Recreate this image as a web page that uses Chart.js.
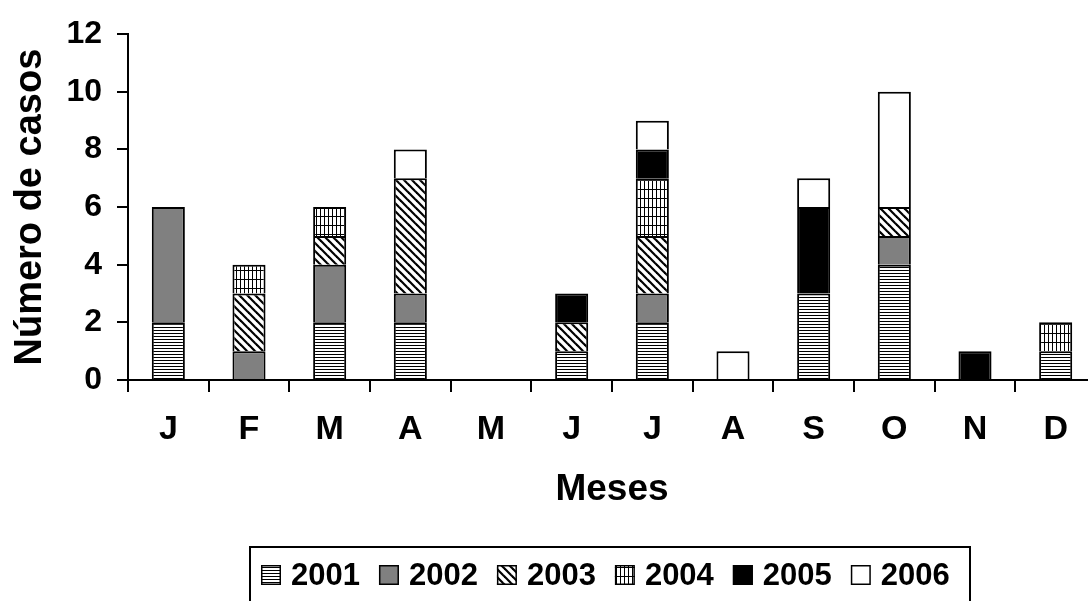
<!DOCTYPE html>
<html>
<head>
<meta charset="utf-8">
<script src="https://cdn.jsdelivr.net/npm/chart.js@4/dist/chart.umd.min.js"></script>
<style>
  html, body { margin: 0; padding: 0; background: #fff; overflow: hidden; }
  canvas { display: block; }
</style>
</head>
<body>
<canvas id="chart" width="1110" height="620"></canvas>
<script>
// Monthly case counts, one array per year (stacked bottom to top)
const months = ['J', 'F', 'M', 'A', 'M', 'J', 'J', 'A', 'S', 'O', 'N', 'D'];
const years = ['2001', '2002', '2003', '2004', '2005', '2006'];
const cases2001 = [2, 0, 2, 2, 0, 1, 2, 0, 3, 4, 0, 1];
const cases2002 = [4, 1, 2, 1, 0, 0, 1, 0, 0, 1, 0, 0];
const cases2003 = [0, 2, 1, 4, 0, 1, 2, 0, 0, 1, 0, 0];
const cases2004 = [0, 1, 1, 0, 0, 0, 2, 0, 0, 0, 0, 1];
const cases2005 = [0, 0, 0, 0, 0, 1, 1, 0, 3, 0, 1, 0];
const cases2006 = [0, 0, 0, 1, 0, 0, 1, 1, 1, 4, 0, 0];
const yMin = 0, yMax = 12, yStep = 2;

const FONT = '"Liberation Sans", Arial, Helvetica, sans-serif';

// Small tiles used as monochrome fill patterns
function makePattern(w, h, paint) {
  const c = document.createElement('canvas');
  c.width = w; c.height = h;
  const g = c.getContext('2d');
  g.fillStyle = '#fff';
  g.fillRect(0, 0, w, h);
  g.fillStyle = '#000';
  g.strokeStyle = '#000';
  paint(g, w, h);
  return g.createPattern(c, 'repeat');
}
const ctx = document.getElementById('chart').getContext('2d');

const hStripes = makePattern(4, 3, (g, w) => { g.fillRect(0, 0, w, 1); });
const diagStripes = makePattern(8, 8, (g) => {
  g.lineWidth = 2.2;
  for (const a of [-8, 0, 8]) {
    g.beginPath();
    g.moveTo(a - 2, -2);
    g.lineTo(a + 10, 10);
    g.stroke();
  }
});
const smallGrid = makePattern(4, 9, (g, w, h) => {
  g.fillRect(0, 0, 1, h);
  g.fillRect(0, 0, w, 1);
});

const fills = [hStripes, '#808080', diagStripes, smallGrid, '#000000', '#ffffff'];
const series = [cases2001, cases2002, cases2003, cases2004, cases2005, cases2006];

const datasets = years.map((year, i) => ({
  label: year,
  data: series[i],
  backgroundColor: fills[i],
  borderColor: '#000',
  borderWidth: { top: 2, left: 2, right: 2, bottom: 0 },
  borderSkipped: false,
  barPercentage: 0.41,
  categoryPercentage: 1
}));

// Framed legend row below the axis title
const framedLegend = {
  id: 'framedLegend',
  afterDraw(chart) {
    const c = chart.ctx;
    c.save();
    c.lineWidth = 2;
    c.strokeStyle = '#000';
    c.strokeRect(250, 547, 720, 100);
    c.font = 'bold 31px ' + FONT;
    c.textBaseline = 'middle';
    c.textAlign = 'left';
    const cy = 575;
    let x = 261;
    chart.data.datasets.forEach(ds => {
      c.fillStyle = ds.backgroundColor;
      c.fillRect(x, cy - 10, 20, 20);
      c.lineWidth = 1.5;
      c.strokeStyle = '#000';
      c.strokeRect(x + 0.75, cy - 9.25, 18.5, 18.5);
      c.fillStyle = '#000';
      c.fillText(ds.label, x + 30, cy + 1);
      x += 30 + c.measureText(ds.label).width + 19;
    });
    c.restore();
  }
};

new Chart(ctx, {
  type: 'bar',
  data: { labels: months, datasets },
  plugins: [framedLegend],
  options: {
    responsive: false,
    animation: false,
    layout: { padding: { top: 24, right: 14, bottom: 0, left: 0 } },
    plugins: {
      legend: { display: false },
      tooltip: { enabled: false }
    },
    scales: {
      x: {
        stacked: true,
        grid: {
          offset: true,
          drawOnChartArea: false,
          drawTicks: true,
          tickLength: 12,
          color: '#000',
          lineWidth: 2
        },
        border: { display: true, color: '#000', width: 2 },
        ticks: {
          color: '#000',
          font: { family: FONT, size: 34, weight: 'bold' },
          padding: 17,
          autoSkip: false,
          maxRotation: 0
        },
        title: {
          display: true,
          text: 'Meses',
          color: '#000',
          font: { family: FONT, size: 37, weight: 'bold' },
          padding: { top: 0, bottom: 108 }
        },
        afterFit(scale) { scale.height = 240; }
      },
      y: {
        stacked: true,
        min: yMin,
        max: yMax,
        grid: {
          drawOnChartArea: false,
          drawTicks: true,
          tickLength: 11,
          color: '#000',
          lineWidth: 2
        },
        border: { display: true, color: '#000', width: 2 },
        ticks: {
          stepSize: yStep,
          color: '#000',
          font: { family: FONT, size: 32, weight: 'bold' },
          padding: 15
        },
        title: {
          display: true,
          text: 'Número de casos',
          color: '#000',
          font: { family: FONT, size: 38, weight: 'bold' },
          padding: { top: 8, bottom: 0 }
        },
        afterFit(scale) { scale.width = 128; }
      }
    }
  }
});
</script>
</body>
</html>
